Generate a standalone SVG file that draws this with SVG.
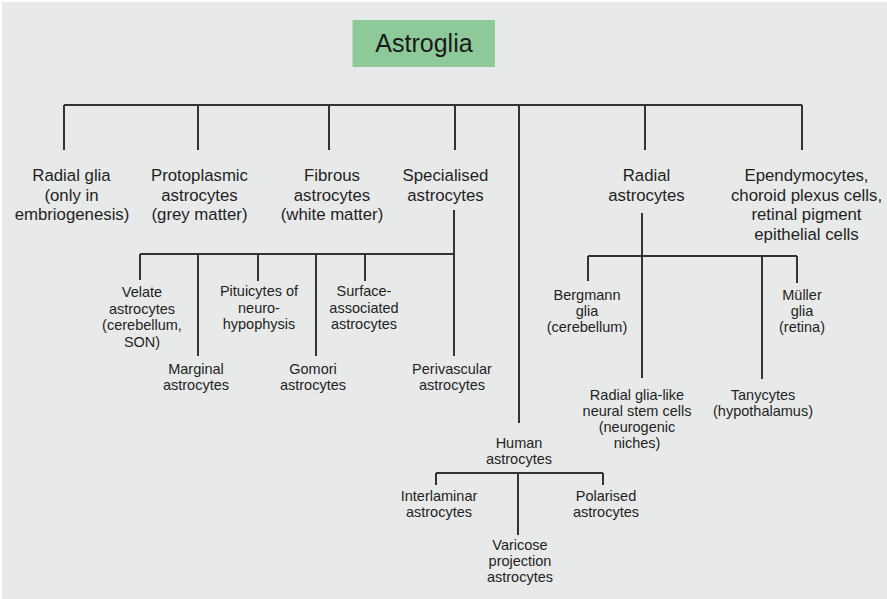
<svg xmlns="http://www.w3.org/2000/svg" width="887" height="599" viewBox="0 0 887 599">
<style>
.t{font-family:"Liberation Sans",Arial,sans-serif;font-size:16.8px;fill:#1f1f1f;text-anchor:middle}
.s{font-family:"Liberation Sans",Arial,sans-serif;font-size:14.5px;fill:#1f1f1f;text-anchor:middle}
.c{stroke:#333;stroke-width:2;fill:none}
</style>
<rect x="0" y="0" width="887" height="599" fill="#ffffff"/>
<rect x="2" y="2" width="885" height="597" fill="#e8e9e9"/>
<g id="connectors" class="c">
<path d="M64 105 H802 M64 105 V150 M198 105 V150 M329 105 V150 M455 105 V150 M645 105 V150 M802 105 V150 M519 105 V423"/>
<path d="M454 210 V356 M140 254 H454 M140 254 V280 M198 254 V356 M258 254 V281 M316 254 V356 M365 254 V281"/>
<path d="M642 213 V378 M588 256 H797 M588 256 V281 M762 256 V379 M797 256 V283"/>
<path d="M436 473 H603 M436 473 V485 M603 473 V485 M518 473 V535"/>
</g>
<g id="astroglia">
<rect x="352.5" y="20" width="142.5" height="47" fill="#8ec99a"/>
<text x="424" y="51.5" font-family="Liberation Sans,Arial,sans-serif" font-size="25px" fill="#1a1a1a" text-anchor="middle">Astroglia</text>
</g>
<g id="radial-glia"><text class="t" x="71.5" y="181">Radial glia</text><text class="t" x="71.5" y="200.5">(only in</text><text class="t" x="72" y="220">embriogenesis)</text></g>
<g id="protoplasmic"><text class="t" x="199.5" y="181">Protoplasmic</text><text class="t" x="199.5" y="200.5">astrocytes</text><text class="t" x="199.5" y="220">(grey matter)</text></g>
<g id="fibrous"><text class="t" x="332" y="181">Fibrous</text><text class="t" x="332" y="200.5">astrocytes</text><text class="t" x="332" y="220">(white matter)</text></g>
<g id="specialised"><text class="t" x="445.5" y="181">Specialised</text><text class="t" x="445.5" y="200.5">astrocytes</text></g>
<g id="radial-astrocytes"><text class="t" x="646.5" y="181">Radial</text><text class="t" x="646.5" y="200.5">astrocytes</text></g>
<g id="ependymocytes"><text class="t" x="806.5" y="181">Ependymocytes,</text><text class="t" x="806.5" y="200.5">choroid plexus cells,</text><text class="t" x="806.5" y="220">retinal pigment</text><text class="t" x="806.5" y="239.5">epithelial cells</text></g>
<g id="velate"><text class="s" x="142" y="297">Velate</text><text class="s" x="142" y="313.5">astrocytes</text><text class="s" x="142" y="330">(cerebellum,</text><text class="s" x="142" y="346.5">SON)</text></g>
<g id="marginal"><text class="s" x="196" y="374">Marginal</text><text class="s" x="196" y="390">astrocytes</text></g>
<g id="pituicytes"><text class="s" x="259" y="296">Pituicytes of</text><text class="s" x="259" y="312.5">neuro-</text><text class="s" x="259" y="328.5">hypophysis</text></g>
<g id="gomori"><text class="s" x="313" y="374">Gomori</text><text class="s" x="313" y="390">astrocytes</text></g>
<g id="surface"><text class="s" x="364" y="296">Surface-</text><text class="s" x="364" y="312.5">associated</text><text class="s" x="364" y="329">astrocytes</text></g>
<g id="perivascular"><text class="s" x="452" y="374">Perivascular</text><text class="s" x="452" y="390">astrocytes</text></g>
<g id="bergmann"><text class="s" x="587" y="300">Bergmann</text><text class="s" x="587" y="316">glia</text><text class="s" x="587" y="332">(cerebellum)</text></g>
<g id="muller"><text class="s" x="802" y="300">Müller</text><text class="s" x="802" y="316">glia</text><text class="s" x="802" y="332">(retina)</text></g>
<g id="radial-glia-like"><text class="s" x="637" y="400">Radial glia-like</text><text class="s" x="637" y="416">neural stem cells</text><text class="s" x="637" y="432">(neurogenic</text><text class="s" x="637" y="448">niches)</text></g>
<g id="tanycytes"><text class="s" x="763" y="400">Tanycytes</text><text class="s" x="763" y="416">(hypothalamus)</text></g>
<g id="human"><text class="s" x="519" y="448">Human</text><text class="s" x="519" y="464">astrocytes</text></g>
<g id="interlaminar"><text class="s" x="439" y="501">Interlaminar</text><text class="s" x="439" y="517">astrocytes</text></g>
<g id="polarised"><text class="s" x="606" y="501">Polarised</text><text class="s" x="606" y="517">astrocytes</text></g>
<g id="varicose"><text class="s" x="520" y="550">Varicose</text><text class="s" x="520" y="566">projection</text><text class="s" x="520" y="582">astrocytes</text></g>
</svg>
